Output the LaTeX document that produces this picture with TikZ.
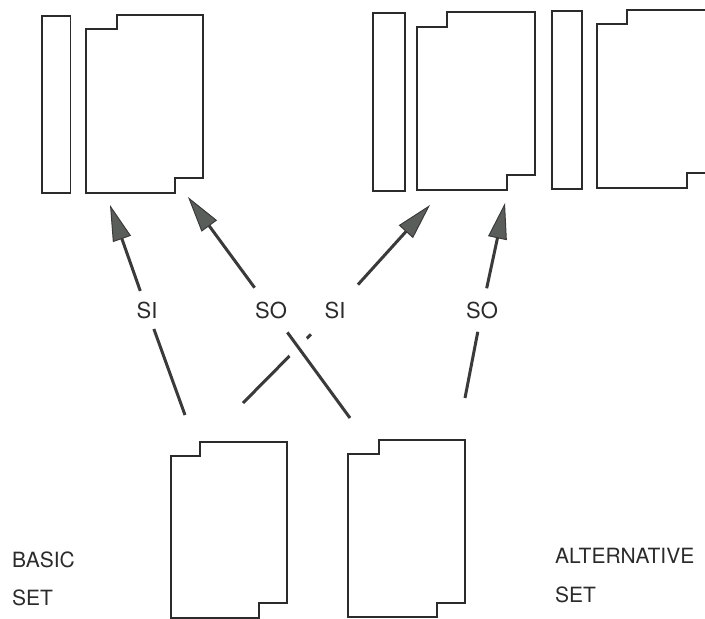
\documentclass[tikz,border=0pt]{standalone}
\usepackage{fontspec}
\setmainfont{TeX Gyre Heros}
\usetikzlibrary{arrows.meta}
\definecolor{ink}{HTML}{2B2B2B}
\definecolor{shaft}{HTML}{3A3A3A}
\definecolor{headfill}{HTML}{5A5E5B}
\begin{document}
\begin{tikzpicture}[x=1pt,y=-1pt,
  outl/.style={draw=ink,line width=1.8pt,line join=miter},
  conn/.style={draw=shaft,line width=3pt},
  arr/.style={conn,-{Triangle[length=36pt,width=19pt,fill=headfill,line width=1pt]}},
  halo/.style={draw=white,line width=24pt},
  lab/.style={circle,inner sep=0pt,minimum size=#1,font=\fontsize{22}{26}\selectfont,text=ink},
  settext/.style={anchor=base west,inner sep=0pt,font=\fontsize{21}{25}\selectfont,text=ink}]
\useasboundingbox (0,0) rectangle (705,619);
\clip (0,0) rectangle (705,619);
% top left pair
\draw[outl] (42,16) rectangle (70.5,193);
\draw[outl] (86,29) -- (117,29) -- (117,15) -- (203,15) -- (203,178) -- (175,178) -- (175,193) -- (86,193) -- cycle;
% top middle pair
\draw[outl] (373,13) rectangle (405,191);
\draw[outl] (417,27) -- (447,27) -- (447,12) -- (535,12) -- (535,175) -- (507,175) -- (507,190) -- (417,190) -- cycle;
% top right pair
\draw[outl] (552,11) rectangle (582,189);
\draw[outl] (597,24) -- (627,24) -- (627,10) -- (715,10) -- (715,173) -- (687,173) -- (687,188) -- (597,188) -- cycle;
% bottom cards
\draw[outl] (171,456) -- (200,456) -- (200,442) -- (287,442) -- (287,603) -- (259,603) -- (259,618) -- (171,618) -- cycle;
\draw[outl] (348,454) -- (379,454) -- (379,440) -- (465,440) -- (465,603) -- (437,603) -- (437,617) -- (348,617) -- cycle;
% connector ends
\coordinate (b1) at (185,415); \coordinate (t1) at (110,205);
\coordinate (b2) at (350,418); \coordinate (t2) at (188,197);
\coordinate (b3) at (243,403); \coordinate (t3) at (430,205);
\coordinate (b4) at (465,398); \coordinate (t4) at (505,203);
% labels
\node[lab=40pt] (si1) at (147,310) {SI};
\node[lab=55pt] (so1) at (271,310) {SO};
\node[lab=68pt] (si2) at (335,310) {SI};
\node[lab=44pt] (so2) at (482,310) {SO};
% connectors
\draw[conn] (b1) -- (si1);
\draw[arr] (si1) -- (t1);
\draw[conn] (b3) -- (si2);
\draw[arr] (si2) -- (t3);
\draw[halo] (b2) -- (so1);
\draw[conn] (b2) -- (so1);
\draw[arr] (so1) -- (t2);
\draw[conn] (b4) -- (so2);
\draw[arr] (so2) -- (t4);
% set texts
\node[settext] (basic) at (12,567) {BASIC};
\node[settext] (bset) at (12,605) {SET};
\node[settext] (alt) at (555,563) {ALTERNATIVE};
\node[settext] (aset) at (555,602) {SET};
\end{tikzpicture}
\end{document}
